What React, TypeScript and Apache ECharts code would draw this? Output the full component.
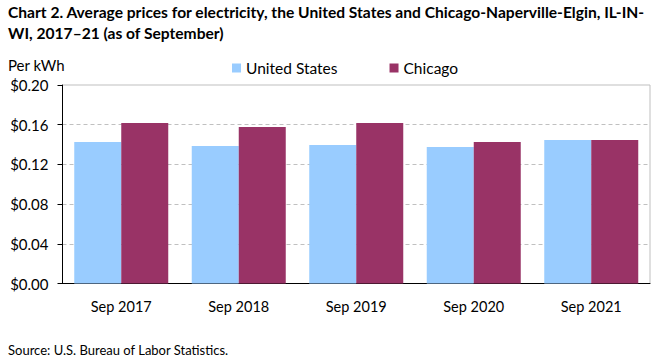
import React, { useEffect, useRef } from "react";
import * as echarts from "echarts";

const categories = ["Sep 2017", "Sep 2018", "Sep 2019", "Sep 2020", "Sep 2021"];
const usValues = [0.1425, 0.1385, 0.1395, 0.1375, 0.1445];
const chicagoValues = [0.1617, 0.1576, 0.1617, 0.1425, 0.1445];
const seriesNames = ["United States", "Chicago"];

const FONT = "Lato";

export default function App() {
  const ref = useRef<HTMLDivElement>(null);
  useEffect(() => {
    if (!ref.current) return;
    const chart = echarts.init(ref.current, undefined, { renderer: "svg" });
    chart.setOption({
      animation: false,
      textStyle: { fontFamily: FONT },
      title: {
        text: "Chart 2. Average prices for electricity, the United States and Chicago-Naperville-Elgin, IL-IN-\nWI, 2017–21 (as of September)",
        left: 8,
        top: 1,
        padding: 0,
        textStyle: { fontFamily: FONT, fontWeight: "bold", fontSize: 15.6, lineHeight: 21, color: "#000" },
      },
      legend: {
        data: seriesNames,
        left: 232,
        top: 60,
        itemWidth: 9,
        itemHeight: 9,
        itemGap: 52,
        padding: 0,
        icon: "rect",
        textStyle: { fontFamily: FONT, fontSize: 15.5, color: "#000" },
      },
      graphic: [
        {
          type: "text",
          left: 8,
          top: 57,
          style: { text: "Per kWh", fontFamily: FONT, fontSize: 15, fill: "#000" },
        },
        {
          type: "text",
          left: 8,
          top: 343,
          style: { text: "Source: U.S. Bureau of Labor Statistics.", fontFamily: FONT, fontSize: 13, fill: "#000" },
        },
      ],
      grid: {
        left: 62.5,
        right: 12,
        top: 85,
        bottom: 75.5,
        show: true,
        borderColor: "#bfbfbf",
        borderWidth: 1,
      },
      xAxis: {
        type: "category",
        data: categories,
        axisLine: { lineStyle: { color: "#000" } },
        axisTick: { show: false },
        axisLabel: { fontFamily: FONT, fontSize: 14.5, color: "#000", margin: 15 },
      },
      yAxis: {
        type: "value",
        min: 0,
        max: 0.2,
        interval: 0.04,
        axisLine: { show: true, lineStyle: { color: "#000" } },
        axisTick: { show: true, length: 5, lineStyle: { color: "#000" } },
        axisLabel: {
          fontFamily: FONT,
          fontSize: 15,
          color: "#000",
          margin: 14,
          formatter: (v: number) => "$" + v.toFixed(2),
        },
        splitLine: {
          show: true,
          showMaxLine: false,
          showMinLine: false,
          lineStyle: { color: "#c0c0c0", type: [4, 3], width: 1 },
        },
      },
      series: [
        {
          name: seriesNames[0],
          type: "bar",
          data: usValues,
          itemStyle: { color: "#99CCFF" },
          barGap: "0%",
          barCategoryGap: "20%",
        },
        {
          name: seriesNames[1],
          type: "bar",
          data: chicagoValues,
          itemStyle: { color: "#993366" },
          barGap: "0%",
          barCategoryGap: "20%",
        },
      ],
    });
    return () => chart.dispose();
  }, []);
  return (
    <div
      ref={ref}
      style={{ position: "absolute", left: 0, top: 0, width: 662, height: 359, background: "#fff" }}
    />
  );
}
